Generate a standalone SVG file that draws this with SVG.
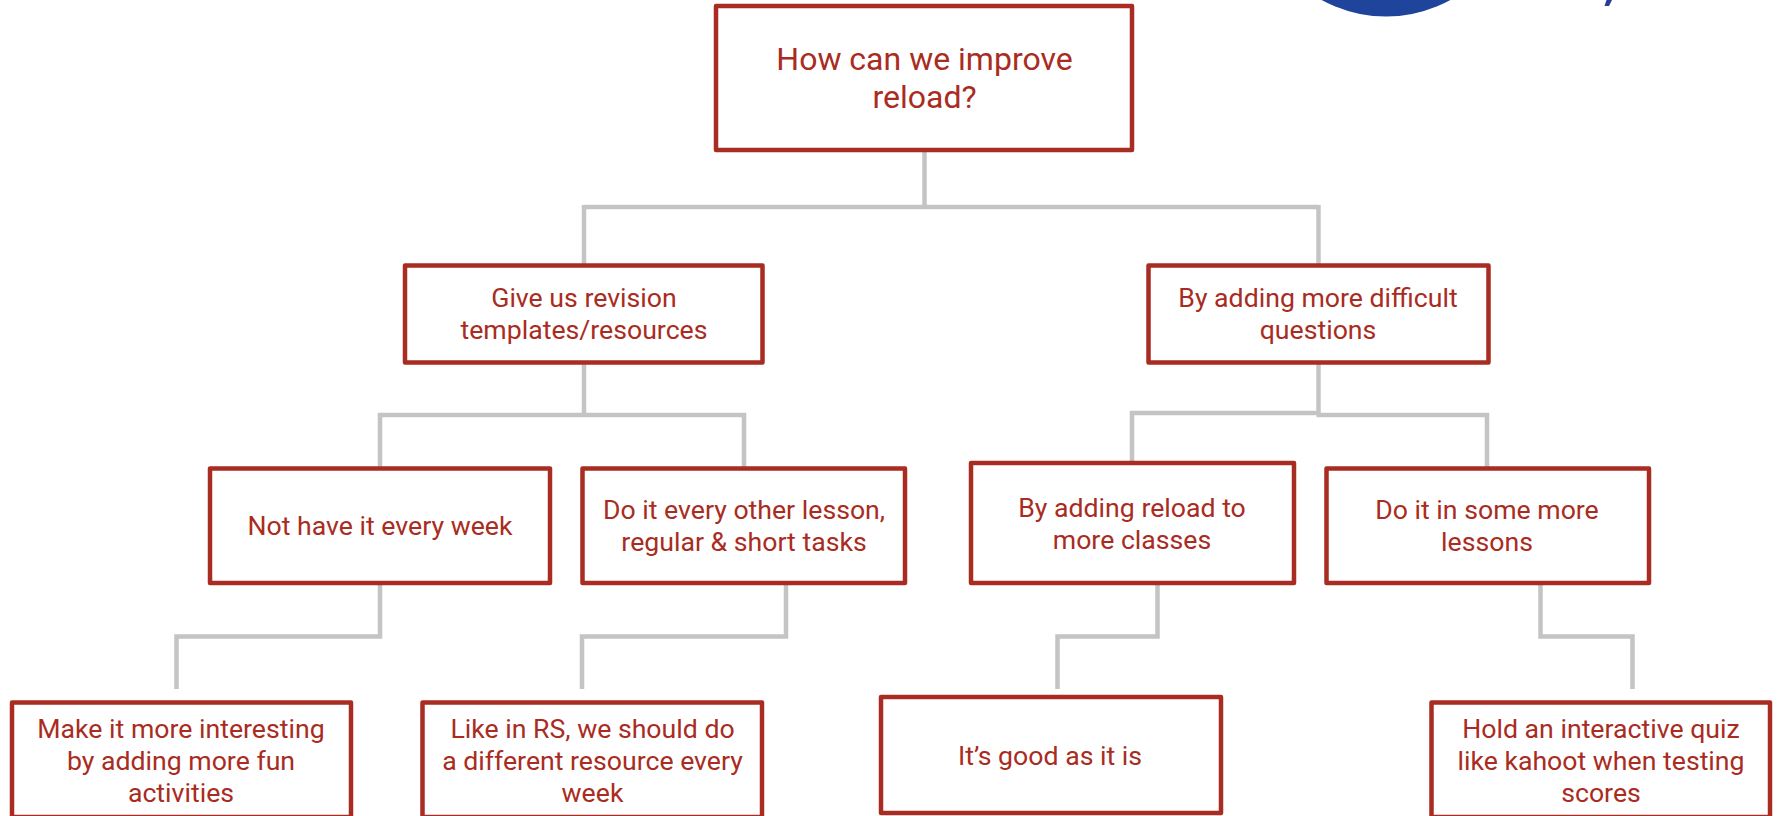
<svg xmlns="http://www.w3.org/2000/svg" width="1777" height="816" viewBox="0 0 1777 816">
<style>
.box{fill:#fff;stroke:#a92c22;stroke-width:4.5;stroke-linejoin:round}
.t{font-family:Roboto,"Liberation Sans",sans-serif;font-size:26.67px;fill:#a92c22;text-anchor:middle}
.r{font-size:32px}
.c{fill:none;stroke:#c4c4c4;stroke-width:4.5}
</style>
<rect width="1777" height="816" fill="#fff"/>
<g id="logo"><circle cx="1386" cy="-117.5" r="134" fill="#1f449b"/><path d="M1606.5 0L1604.5 6H1609L1612 0Z" fill="#2a3a9a"/></g>
<g id="connectors">
<path class="c" d="M924.5 150V207"/>
<path class="c" d="M584 207H1318.5"/>
<path class="c" d="M584 205V264"/>
<path class="c" d="M1318.5 205V264"/>
<path class="c" d="M584 364V415"/>
<path class="c" d="M380 467V415H744V467"/>
<path class="c" d="M1318.5 364V415"/>
<path class="c" d="M1132 462V413H1318.5"/>
<path class="c" d="M1316.5 415H1487V467"/>
<path class="c" d="M380 585V636.5H176.5V689"/>
<path class="c" d="M786 585V636.5H582V689"/>
<path class="c" d="M1157.5 585V636.5H1057.5V689"/>
<path class="c" d="M1540.5 585V636.5H1632.5V689"/>
</g>
<g id="n-root"><rect class="box" x="716" y="6" width="416" height="144"/><text class="t r" x="924.5" y="70">How can we improve</text><text class="t r" x="924.5" y="108">reload?</text></g>
<g id="n-revision"><rect class="box" x="405" y="265.5" width="357.5" height="97"/><text class="t" x="584" y="307">Give us revision</text><text class="t" x="584" y="339">templates/resources</text></g>
<g id="n-difficult"><rect class="box" x="1148.5" y="265.5" width="340" height="97"/><text class="t" x="1318" y="307">By adding more difficult</text><text class="t" x="1318" y="339">questions</text></g>
<g id="n-notweek"><rect class="box" x="210" y="468.5" width="340" height="114.5"/><text class="t" x="380" y="535">Not have it every week</text></g>
<g id="n-other"><rect class="box" x="582.5" y="468.5" width="322.5" height="114.5"/><text class="t" x="744" y="519">Do it every other lesson,</text><text class="t" x="744" y="551">regular &amp; short tasks</text></g>
<g id="n-classes"><rect class="box" x="971" y="463" width="323" height="120"/><text class="t" x="1132" y="517">By adding reload to</text><text class="t" x="1132" y="549">more classes</text></g>
<g id="n-lessons"><rect class="box" x="1326.5" y="468.5" width="322.5" height="114.5"/><text class="t" x="1487" y="519">Do it in some more</text><text class="t" x="1487" y="551">lessons</text></g>
<g id="n-fun"><rect class="box" x="12" y="702.5" width="339" height="114.5"/><text class="t" x="181" y="738">Make it more interesting</text><text class="t" x="181" y="770">by adding more fun</text><text class="t" x="181" y="802">activities</text></g>
<g id="n-rs"><rect class="box" x="422.5" y="702.5" width="339.5" height="114.5"/><text class="t" x="592.5" y="738">Like in RS, we should do</text><text class="t" x="592.5" y="770">a different resource every</text><text class="t" x="592.5" y="802">week</text></g>
<g id="n-good"><rect class="box" x="881" y="697" width="340" height="116"/><text class="t" x="1050" y="765">It’s good as it is</text></g>
<g id="n-quiz"><rect class="box" x="1431.5" y="702.5" width="338.5" height="114.5"/><text class="t" x="1601" y="738">Hold an interactive quiz</text><text class="t" x="1601" y="770">like kahoot when testing</text><text class="t" x="1601" y="802">scores</text></g>
</svg>
